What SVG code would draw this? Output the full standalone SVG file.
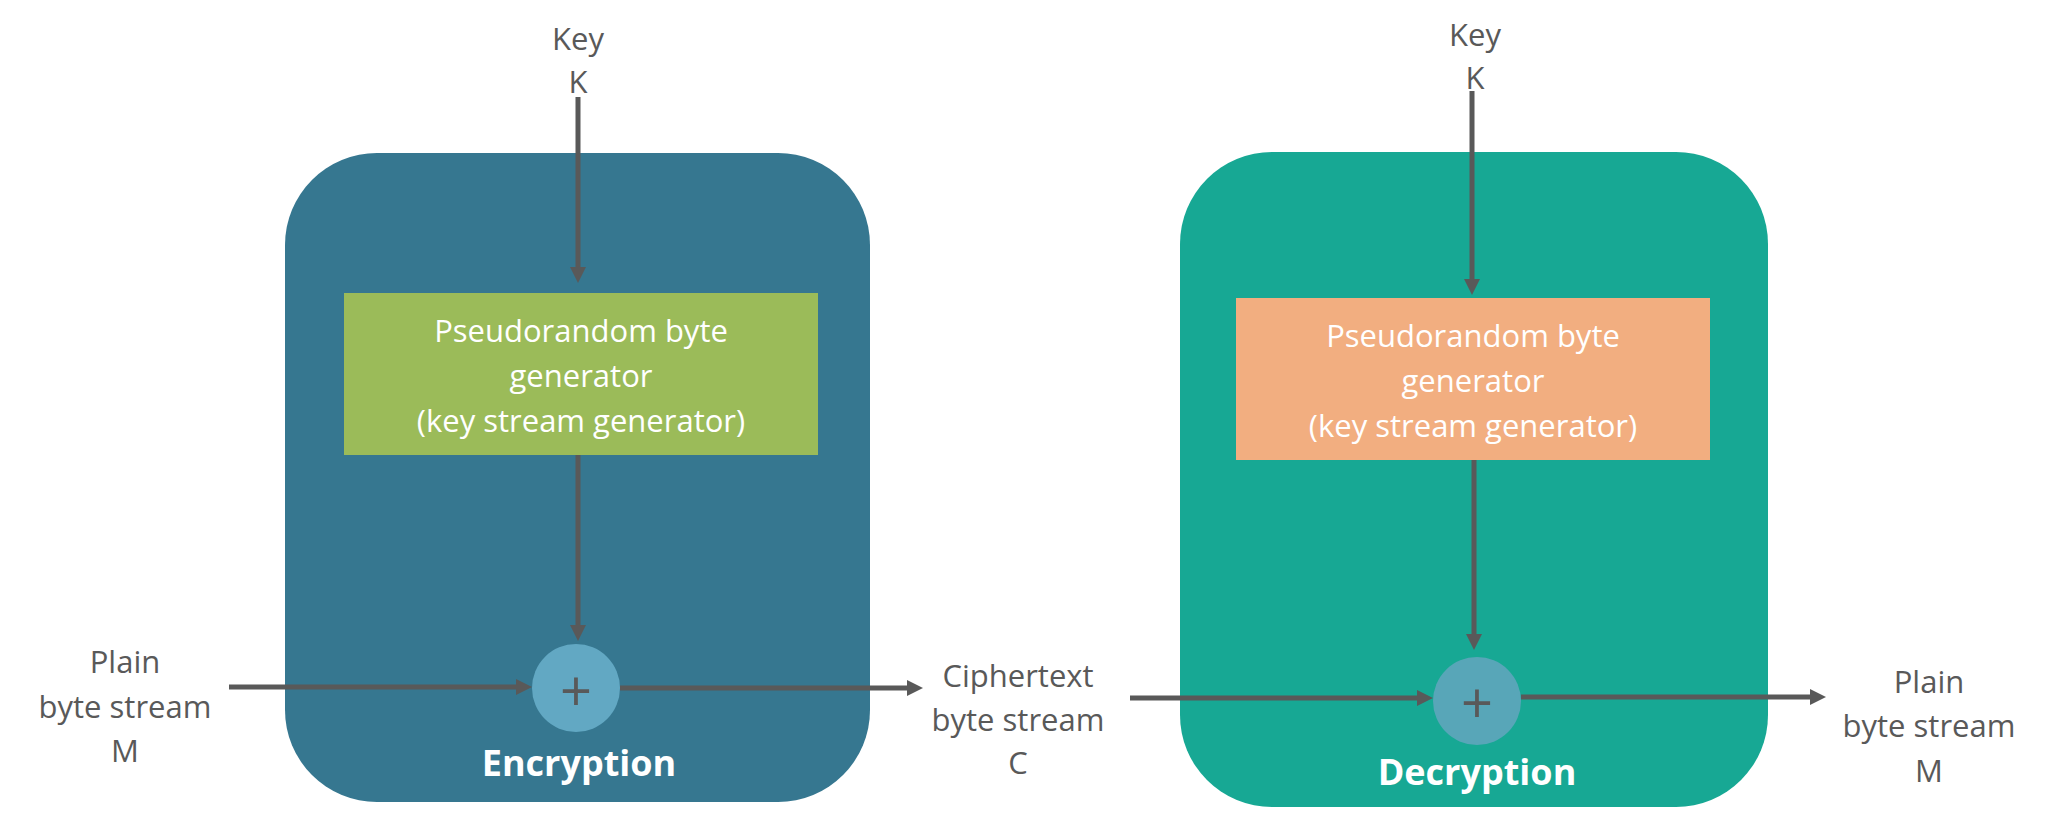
<svg xmlns="http://www.w3.org/2000/svg" width="2048" height="827" viewBox="0 0 2048 827">
<style>
.lbl{font-family:"Open Sans","Noto Sans",sans-serif;font-size:31px;fill:#595959;text-anchor:middle}
.wt{font-family:"Open Sans","Noto Sans",sans-serif;font-size:31px;fill:#ffffff;text-anchor:middle}
.ttl{font-family:"Open Sans","Noto Sans",sans-serif;font-size:36px;font-weight:bold;fill:#ffffff;text-anchor:middle}
.plus{font-family:"Open Sans","Noto Sans",sans-serif;font-size:56px;fill:#595959;text-anchor:middle}
.conn{stroke:#595959;stroke-width:5;fill:none;marker-end:url(#ah)}
</style>
<defs>
<marker id="ah" markerUnits="userSpaceOnUse" markerWidth="16" markerHeight="16" viewBox="0 0 16 16" refX="0" refY="8" orient="auto">
<path d="M0,0 L16,8 L0,16 z" fill="#595959"/>
</marker>
</defs>
<g id="encryption-box">
<rect x="285" y="153" width="585" height="649" rx="92" ry="92" fill="#367790"/>
<text class="ttl" x="579" y="776">Encryption</text>
</g>
<g id="decryption-box">
<rect x="1180" y="152" width="588" height="655" rx="92" ry="92" fill="#17A894"/>
<text class="ttl" x="1477" y="785">Decryption</text>
</g>
<g id="enc-generator">
<rect x="344" y="293" width="474" height="162" fill="#9BBB59"/>
<text class="wt" x="581" y="342">Pseudorandom byte</text>
<text class="wt" x="581" y="387">generator</text>
<text class="wt" x="581" y="432">(key stream generator)</text>
</g>
<g id="dec-generator">
<rect x="1236" y="298" width="474" height="162" fill="#F2AE80"/>
<text class="wt" x="1473" y="347">Pseudorandom byte</text>
<text class="wt" x="1473" y="392">generator</text>
<text class="wt" x="1473" y="437">(key stream generator)</text>
</g>
<g id="enc-xor">
<circle cx="576" cy="688" r="44" fill="#62A8C3"/>
<text class="plus" x="576" y="711">+</text>
</g>
<g id="dec-xor">
<circle cx="1477" cy="701" r="44" fill="#58A6B8"/>
<text class="plus" x="1477" y="723">+</text>
</g>
<g id="key-left">
<text class="lbl" x="578" y="50">Key</text>
<text class="lbl" x="578" y="93">K</text>
</g>
<g id="key-right">
<text class="lbl" x="1475" y="46">Key</text>
<text class="lbl" x="1475" y="89">K</text>
</g>
<g id="plain-in">
<text class="lbl" x="125" y="673">Plain</text>
<text class="lbl" x="125" y="718">byte stream</text>
<text class="lbl" x="125" y="762">M</text>
</g>
<g id="cipher">
<text class="lbl" x="1018" y="687">Ciphertext</text>
<text class="lbl" x="1018" y="731">byte stream</text>
<text class="lbl" x="1018" y="774">C</text>
</g>
<g id="plain-out">
<text class="lbl" x="1929" y="693">Plain</text>
<text class="lbl" x="1929" y="737">byte stream</text>
<text class="lbl" x="1929" y="782">M</text>
</g>
<g id="connectors">
<path class="conn" d="M578,97 V267"/>
<path class="conn" d="M578,455 V625"/>
<path class="conn" d="M229,687 H516"/>
<path class="conn" d="M620,688 H907"/>
<path class="conn" d="M1472,91 V279"/>
<path class="conn" d="M1474,460 V634"/>
<path class="conn" d="M1130,698 H1417"/>
<path class="conn" d="M1521,697 H1810"/>
</g>
</svg>
